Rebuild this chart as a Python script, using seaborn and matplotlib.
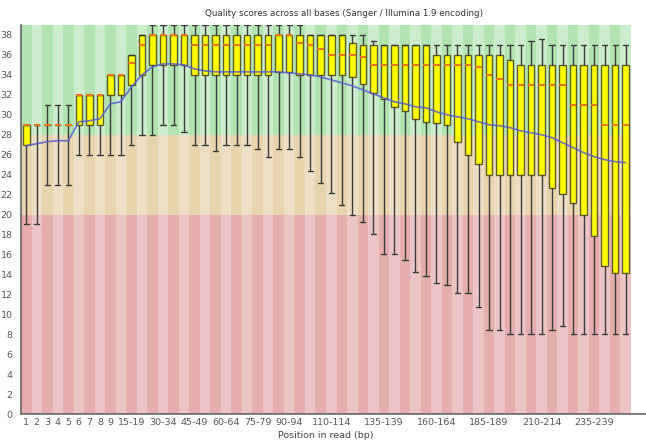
import matplotlib
matplotlib.use("Agg")
import matplotlib.pyplot as plt
from matplotlib.lines import Line2D
import seaborn as sns
import pandas as pd

# Read position groups
positions_bp = ["1", "2", "3", "4", "5", "6", "7", "8", "9",
                "10-14", "15-19", "20-24", "25-29", "30-34", "35-39", "40-44",
                "45-49", "50-54", "55-59", "60-64", "65-69", "70-74", "75-79",
                "80-84", "85-89", "90-94", "95-99", "100-104", "105-109",
                "110-114", "115-119", "120-124", "125-129", "130-134", "135-139",
                "140-144", "145-149", "150-154", "155-159", "160-164", "165-169",
                "170-174", "175-179", "180-184", "185-189", "190-194", "195-199",
                "200-204", "205-209", "210-214", "215-219", "220-224", "225-229",
                "230-234", "235-239", "240-244", "245-249", "250-251"]

shown_labels = ["1", "2", "3", "4", "5", "6", "7", "8", "9", "15-19", "30-34",
                "45-49", "60-64", "75-79", "90-94", "110-114", "135-139",
                "160-164", "185-189", "210-214", "235-239"]

# Per-position quality summaries (Phred scores)
lower_quartile = [27, 29, 29, 29, 29, 29, 29, 29, 32, 32,
                  33, 34, 35, 35, 35, 35, 34, 34, 34, 34,
                  34, 34, 34, 34, 34.3, 34.3, 34, 34, 34, 34,
                  34, 33.8, 33.1, 32.2, 31.6, 30.8, 30.4, 29.6, 29.3, 29.2,
                  29.0, 27.3, 26.0, 25.1, 24, 24, 24, 24, 24, 24,
                  22.7, 22.1, 21.2, 20.0, 17.8, 14.8, 14.1, 14.1]
median = [29, 29, 29, 29, 29, 32, 32, 32, 34, 34,
          35.2, 37, 38, 38, 38, 38, 37, 37, 37, 37,
          37, 37, 37, 37, 38, 38, 37.2, 37, 36.6, 36,
          36, 36, 35.8, 35, 35, 35, 35, 35, 35, 35,
          35, 35, 35, 34.8, 34, 33.6, 33, 33, 33, 33,
          33, 33, 31, 31, 31, 29, 29, 29]
upper_quartile = [29, 29, 29, 29, 29, 32, 32, 32, 34, 34,
                  36, 38, 38, 38, 38, 38, 38, 38, 38, 38,
                  38, 38, 38, 38, 38, 38, 38, 38, 38, 38,
                  38, 37.2, 37, 37, 37, 37, 37, 37, 37, 36,
                  36, 36, 36, 36, 36, 36, 35.5, 35, 35, 35,
                  35, 35, 35, 35, 35, 35, 35, 35]
percentile_10 = [19, 19, 23, 23, 23, 26, 26, 26, 26, 26,
                 27, 28, 28, 29, 29, 28.3, 27, 27, 26.4, 27,
                 27, 27, 26.6, 25.8, 26.6, 26.6, 25.8, 24.4, 23.2, 22.2,
                 21, 20, 19.2, 18, 16, 16, 15.4, 14.2, 13.8, 13.1,
                 12.9, 12.1, 12.1, 10.7, 8.4, 8.4, 8, 8, 8, 8,
                 8.4, 8.8, 8, 8, 8, 8, 8, 8]
percentile_90 = [29, 29, 31, 31, 31, 32, 32, 32, 34, 34,
                 36, 38, 39, 39, 39, 39, 39, 39, 39, 39,
                 39, 39, 39, 39, 39, 39, 39, 38, 38, 38,
                 38, 38, 38, 37.4, 37, 37, 37, 37, 37, 37,
                 37, 37, 37, 37, 37, 37, 37, 37, 37.4, 37.6,
                 37, 37, 37, 37, 37, 37, 37, 37]
mean_quality = [26.9, 27.1, 27.3, 27.4, 27.4, 29.3, 29.4, 29.6, 31.1, 31.3,
                32.8, 34.0, 34.8, 35.1, 35.1, 35.0, 34.6, 34.4, 34.3, 34.3,
                34.3, 34.3, 34.3, 34.3, 34.3, 34.2, 34.1, 34.0, 33.8, 33.5,
                33.2, 32.9, 32.5, 32.1, 31.7, 31.3, 31.1, 30.8, 30.7, 30.3,
                30.0, 29.8, 29.6, 29.3, 29.0, 28.9, 28.7, 28.4, 28.2, 28.0,
                27.7, 27.2, 26.7, 26.2, 25.8, 25.5, 25.3, 25.2]

# Quality zones: (bottom, top, darker stripe, lighter stripe)
zones = [(0, 20, "#e6adaf", "#ecc4c6"),
         (20, 28, "#e7d6ad", "#ecdfc6"),
         (28, 39, "#b2e3b2", "#cdeccd")]

df = pd.DataFrame({"pos": range(len(positions_bp)), "group": positions_bp,
                   "mean": mean_quality})

sns.set_theme(style="white")
plt.rcParams["font.family"] = ["DejaVu Sans"]

fig = plt.figure(figsize=(6.46, 4.42), dpi=100)
ax = fig.add_axes([21 / 646, 28 / 442, 610 / 646, 389 / 442])

# Striped background for each quality zone
for lo, hi, dark, light in zones:
    colors = [dark if i % 2 == 0 else light for i in df["pos"]]
    ax.bar(df["pos"], hi - lo, bottom=lo, width=1.0, color=colors,
           linewidth=0, zorder=0)

# Box-and-whisker per position
stats = []
for i in range(len(positions_bp)):
    stats.append({"med": median[i], "q1": lower_quartile[i],
                  "q3": upper_quartile[i], "whislo": percentile_10[i],
                  "whishi": percentile_90[i], "fliers": [],
                  "label": positions_bp[i]})
ax.bxp(stats, positions=list(df["pos"]), widths=0.62, patch_artist=True,
       showfliers=False, manage_ticks=False,
       boxprops=dict(facecolor="#ffff00", edgecolor="#5e5e28", linewidth=1.0),
       medianprops=dict(color="#e4761e", linewidth=1.5),
       whiskerprops=dict(color="#3c3c3c", linewidth=1.0),
       capprops=dict(color="#3c3c3c", linewidth=1.0),
       capwidths=0.5, zorder=3)

# Mean quality line
sns.lineplot(data=df, x="pos", y="mean", ax=ax, color="#5a5ad2",
             linewidth=1.2, alpha=0.85, zorder=4)

ax.set_xlim(-0.5, len(positions_bp) - 0.5)
ax.set_ylim(0, 39)
tick_pos = [positions_bp.index(lbl) for lbl in shown_labels]
ax.set_xticks(tick_pos)
ax.set_xticklabels(shown_labels, fontsize=6.8, color="#555555")
ax.set_yticks(range(0, 39, 2))
ax.set_yticklabels([str(v) for v in range(0, 39, 2)], fontsize=6.8,
                   color="#555555")
ax.tick_params(axis="both", length=0, pad=3)
ax.tick_params(axis="y", pad=6)
ax.set_xlabel("Position in read (bp)", fontsize=6.8, color="#444444",
              labelpad=3)
ax.set_ylabel("")
for side in ["top", "right", "bottom"]:
    ax.spines[side].set_visible(False)
ax.spines["left"].set_color("#666666")
ax.spines["left"].set_linewidth(1.2)

# Baseline running to the right edge
fig.add_artist(Line2D([21 / 646, 1.0], [28 / 442, 28 / 442],
                      transform=fig.transFigure, color="#666666",
                      linewidth=1.2))

fig.text(344 / 646, 1 - 13 / 442,
         "Quality scores across all bases (Sanger / Illumina 1.9 encoding)",
         ha="center", va="center", fontsize=6.3, color="#333333")

fig.savefig("out.png", dpi=100)
